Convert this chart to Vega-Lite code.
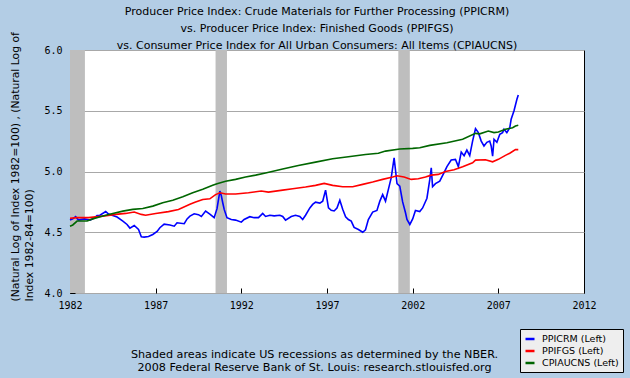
{
  "$schema": "https://vega.github.io/schema/vega-lite/v6.json",
  "autosize": {"type": "none"},
  "width": 514,
  "height": 243,
  "padding": {"left": 70, "top": 50, "right": 46, "bottom": 85},
  "background": "#B3CDE5",
  "title": {
    "text": [
      "Producer Price Index: Crude Materials for Further Processing (PPICRM)",
      "vs.  Producer Price Index: Finished Goods (PPIFGS)",
      "vs.  Consumer Price Index for All Urban Consumers: All Items (CPIAUCNS)"
    ],
    "font": "DejaVu Sans",
    "fontSize": 11,
    "fontWeight": "normal",
    "color": "#000000",
    "anchor": "middle",
    "dx": -10,
    "lineHeight": 17,
    "offset": -19
  },
  "config": {
    "view": {"fill": "#FFFFFF", "stroke": "#000000", "strokeWidth": 1},
    "axis": {
      "labelFont": "DejaVu Sans Mono",
      "labelFontSize": 10,
      "labelColor": "#000000",
      "titleFont": "DejaVu Sans",
      "titleFontWeight": "normal",
      "titleColor": "#000000",
      "domain": false,
      "tickColor": "#000000",
      "tickSize": -5,
      "labelPadding": 13
    }
  },
  "layer": [
    {
      "data": {
        "values": [
          {"start": "1982-01-01", "end": "1982-11-15"},
          {"start": "1990-07-01", "end": "1991-03-01"},
          {"start": "2001-03-01", "end": "2001-11-01"}
        ]
      },
      "mark": {"type": "rect", "color": "#BEBEBE"},
      "encoding": {
        "x": {"field": "start", "type": "temporal"},
        "x2": {"field": "end"}
      }
    },
    {
      "data": {
        "values": [
          {"date": "1982-01-01", "series": "PPICRM", "value": 4.60},
          {"date": "1982-03-01", "series": "PPICRM", "value": 4.61},
          {"date": "1982-05-01", "series": "PPICRM", "value": 4.628},
          {"date": "1982-07-01", "series": "PPICRM", "value": 4.60},
          {"date": "1982-11-01", "series": "PPICRM", "value": 4.61},
          {"date": "1983-03-01", "series": "PPICRM", "value": 4.60},
          {"date": "1983-06-01", "series": "PPICRM", "value": 4.616},
          {"date": "1983-08-01", "series": "PPICRM", "value": 4.638},
          {"date": "1983-10-01", "series": "PPICRM", "value": 4.64},
          {"date": "1984-02-01", "series": "PPICRM", "value": 4.671},
          {"date": "1984-04-01", "series": "PPICRM", "value": 4.65},
          {"date": "1984-08-01", "series": "PPICRM", "value": 4.633},
          {"date": "1984-10-01", "series": "PPICRM", "value": 4.625},
          {"date": "1985-02-01", "series": "PPICRM", "value": 4.592},
          {"date": "1985-05-01", "series": "PPICRM", "value": 4.564},
          {"date": "1985-07-01", "series": "PPICRM", "value": 4.534},
          {"date": "1985-10-01", "series": "PPICRM", "value": 4.556},
          {"date": "1986-01-01", "series": "PPICRM", "value": 4.523},
          {"date": "1986-03-01", "series": "PPICRM", "value": 4.463},
          {"date": "1986-05-01", "series": "PPICRM", "value": 4.46},
          {"date": "1986-08-01", "series": "PPICRM", "value": 4.465},
          {"date": "1986-11-01", "series": "PPICRM", "value": 4.482},
          {"date": "1987-02-01", "series": "PPICRM", "value": 4.507},
          {"date": "1987-04-01", "series": "PPICRM", "value": 4.537},
          {"date": "1987-07-01", "series": "PPICRM", "value": 4.567},
          {"date": "1987-11-01", "series": "PPICRM", "value": 4.56},
          {"date": "1988-02-01", "series": "PPICRM", "value": 4.55},
          {"date": "1988-04-01", "series": "PPICRM", "value": 4.578},
          {"date": "1988-09-01", "series": "PPICRM", "value": 4.57},
          {"date": "1988-11-01", "series": "PPICRM", "value": 4.61},
          {"date": "1989-01-01", "series": "PPICRM", "value": 4.633},
          {"date": "1989-04-01", "series": "PPICRM", "value": 4.652},
          {"date": "1989-07-01", "series": "PPICRM", "value": 4.645},
          {"date": "1989-09-01", "series": "PPICRM", "value": 4.63},
          {"date": "1989-12-01", "series": "PPICRM", "value": 4.674},
          {"date": "1990-03-01", "series": "PPICRM", "value": 4.65},
          {"date": "1990-06-01", "series": "PPICRM", "value": 4.62},
          {"date": "1990-08-01", "series": "PPICRM", "value": 4.694},
          {"date": "1990-10-01", "series": "PPICRM", "value": 4.839},
          {"date": "1990-11-01", "series": "PPICRM", "value": 4.80},
          {"date": "1990-12-01", "series": "PPICRM", "value": 4.743},
          {"date": "1991-01-01", "series": "PPICRM", "value": 4.688},
          {"date": "1991-03-01", "series": "PPICRM", "value": 4.62},
          {"date": "1991-06-01", "series": "PPICRM", "value": 4.605},
          {"date": "1991-09-01", "series": "PPICRM", "value": 4.60},
          {"date": "1992-01-01", "series": "PPICRM", "value": 4.583},
          {"date": "1992-03-01", "series": "PPICRM", "value": 4.605},
          {"date": "1992-07-01", "series": "PPICRM", "value": 4.628},
          {"date": "1992-10-01", "series": "PPICRM", "value": 4.62},
          {"date": "1993-01-01", "series": "PPICRM", "value": 4.62},
          {"date": "1993-04-01", "series": "PPICRM", "value": 4.655},
          {"date": "1993-06-01", "series": "PPICRM", "value": 4.63},
          {"date": "1993-09-01", "series": "PPICRM", "value": 4.64},
          {"date": "1993-12-01", "series": "PPICRM", "value": 4.635},
          {"date": "1994-04-01", "series": "PPICRM", "value": 4.64},
          {"date": "1994-06-01", "series": "PPICRM", "value": 4.63},
          {"date": "1994-08-01", "series": "PPICRM", "value": 4.60},
          {"date": "1994-12-01", "series": "PPICRM", "value": 4.63},
          {"date": "1995-03-01", "series": "PPICRM", "value": 4.64},
          {"date": "1995-06-01", "series": "PPICRM", "value": 4.63},
          {"date": "1995-08-01", "series": "PPICRM", "value": 4.605},
          {"date": "1995-10-01", "series": "PPICRM", "value": 4.64},
          {"date": "1996-01-01", "series": "PPICRM", "value": 4.70},
          {"date": "1996-03-01", "series": "PPICRM", "value": 4.729},
          {"date": "1996-05-01", "series": "PPICRM", "value": 4.748},
          {"date": "1996-08-01", "series": "PPICRM", "value": 4.74},
          {"date": "1996-10-01", "series": "PPICRM", "value": 4.756},
          {"date": "1996-12-01", "series": "PPICRM", "value": 4.847},
          {"date": "1997-02-01", "series": "PPICRM", "value": 4.70},
          {"date": "1997-04-01", "series": "PPICRM", "value": 4.68},
          {"date": "1997-06-01", "series": "PPICRM", "value": 4.675},
          {"date": "1997-08-01", "series": "PPICRM", "value": 4.70},
          {"date": "1997-10-01", "series": "PPICRM", "value": 4.764},
          {"date": "1997-12-01", "series": "PPICRM", "value": 4.69},
          {"date": "1998-02-01", "series": "PPICRM", "value": 4.628},
          {"date": "1998-04-01", "series": "PPICRM", "value": 4.605},
          {"date": "1998-06-01", "series": "PPICRM", "value": 4.592},
          {"date": "1998-08-01", "series": "PPICRM", "value": 4.54},
          {"date": "1998-11-01", "series": "PPICRM", "value": 4.523},
          {"date": "1999-02-01", "series": "PPICRM", "value": 4.50},
          {"date": "1999-04-01", "series": "PPICRM", "value": 4.52},
          {"date": "1999-06-01", "series": "PPICRM", "value": 4.605},
          {"date": "1999-09-01", "series": "PPICRM", "value": 4.666},
          {"date": "1999-12-01", "series": "PPICRM", "value": 4.68},
          {"date": "2000-02-01", "series": "PPICRM", "value": 4.756},
          {"date": "2000-04-01", "series": "PPICRM", "value": 4.81},
          {"date": "2000-06-01", "series": "PPICRM", "value": 4.756},
          {"date": "2000-08-01", "series": "PPICRM", "value": 4.853},
          {"date": "2000-10-01", "series": "PPICRM", "value": 4.95},
          {"date": "2000-12-01", "series": "PPICRM", "value": 5.113},
          {"date": "2001-02-01", "series": "PPICRM", "value": 4.90},
          {"date": "2001-04-01", "series": "PPICRM", "value": 4.88},
          {"date": "2001-06-01", "series": "PPICRM", "value": 4.75},
          {"date": "2001-08-01", "series": "PPICRM", "value": 4.66},
          {"date": "2001-09-01", "series": "PPICRM", "value": 4.605},
          {"date": "2001-11-01", "series": "PPICRM", "value": 4.564},
          {"date": "2002-01-01", "series": "PPICRM", "value": 4.61},
          {"date": "2002-03-01", "series": "PPICRM", "value": 4.68},
          {"date": "2002-06-01", "series": "PPICRM", "value": 4.67},
          {"date": "2002-08-01", "series": "PPICRM", "value": 4.70},
          {"date": "2002-11-01", "series": "PPICRM", "value": 4.78},
          {"date": "2003-01-01", "series": "PPICRM", "value": 4.935},
          {"date": "2003-02-01", "series": "PPICRM", "value": 5.03},
          {"date": "2003-03-01", "series": "PPICRM", "value": 4.875},
          {"date": "2003-05-01", "series": "PPICRM", "value": 4.90},
          {"date": "2003-08-01", "series": "PPICRM", "value": 4.92},
          {"date": "2003-11-01", "series": "PPICRM", "value": 4.99},
          {"date": "2004-01-01", "series": "PPICRM", "value": 5.04},
          {"date": "2004-04-01", "series": "PPICRM", "value": 5.094},
          {"date": "2004-07-01", "series": "PPICRM", "value": 5.10},
          {"date": "2004-09-01", "series": "PPICRM", "value": 5.04},
          {"date": "2004-11-01", "series": "PPICRM", "value": 5.16},
          {"date": "2005-01-01", "series": "PPICRM", "value": 5.13},
          {"date": "2005-03-01", "series": "PPICRM", "value": 5.176},
          {"date": "2005-05-01", "series": "PPICRM", "value": 5.13},
          {"date": "2005-07-01", "series": "PPICRM", "value": 5.25},
          {"date": "2005-09-01", "series": "PPICRM", "value": 5.353},
          {"date": "2005-11-01", "series": "PPICRM", "value": 5.32},
          {"date": "2006-01-01", "series": "PPICRM", "value": 5.25},
          {"date": "2006-03-01", "series": "PPICRM", "value": 5.21},
          {"date": "2006-05-01", "series": "PPICRM", "value": 5.24},
          {"date": "2006-07-01", "series": "PPICRM", "value": 5.25},
          {"date": "2006-08-01", "series": "PPICRM", "value": 5.21},
          {"date": "2006-09-01", "series": "PPICRM", "value": 5.127},
          {"date": "2006-10-01", "series": "PPICRM", "value": 5.265},
          {"date": "2006-12-01", "series": "PPICRM", "value": 5.24},
          {"date": "2007-02-01", "series": "PPICRM", "value": 5.306},
          {"date": "2007-04-01", "series": "PPICRM", "value": 5.32},
          {"date": "2007-05-01", "series": "PPICRM", "value": 5.347},
          {"date": "2007-07-01", "series": "PPICRM", "value": 5.32},
          {"date": "2007-09-01", "series": "PPICRM", "value": 5.36},
          {"date": "2007-10-01", "series": "PPICRM", "value": 5.43},
          {"date": "2007-12-01", "series": "PPICRM", "value": 5.50},
          {"date": "2008-02-01", "series": "PPICRM", "value": 5.594},
          {"date": "2008-03-01", "series": "PPICRM", "value": 5.63},

          {"date": "1982-01-01", "series": "PPIFGS", "value": 4.615},
          {"date": "1982-06-01", "series": "PPIFGS", "value": 4.62},
          {"date": "1983-02-01", "series": "PPIFGS", "value": 4.62},
          {"date": "1983-12-01", "series": "PPIFGS", "value": 4.633},
          {"date": "1984-09-01", "series": "PPIFGS", "value": 4.647},
          {"date": "1985-04-01", "series": "PPIFGS", "value": 4.655},
          {"date": "1985-10-01", "series": "PPIFGS", "value": 4.666},
          {"date": "1986-03-01", "series": "PPIFGS", "value": 4.647},
          {"date": "1986-06-01", "series": "PPIFGS", "value": 4.64},
          {"date": "1987-01-01", "series": "PPIFGS", "value": 4.655},
          {"date": "1987-10-01", "series": "PPIFGS", "value": 4.67},
          {"date": "1988-05-01", "series": "PPIFGS", "value": 4.688},
          {"date": "1989-01-01", "series": "PPIFGS", "value": 4.73},
          {"date": "1989-05-01", "series": "PPIFGS", "value": 4.748},
          {"date": "1989-10-01", "series": "PPIFGS", "value": 4.77},
          {"date": "1990-03-01", "series": "PPIFGS", "value": 4.775},
          {"date": "1990-07-01", "series": "PPIFGS", "value": 4.81},
          {"date": "1990-10-01", "series": "PPIFGS", "value": 4.825},
          {"date": "1991-02-01", "series": "PPIFGS", "value": 4.815},
          {"date": "1991-09-01", "series": "PPIFGS", "value": 4.815},
          {"date": "1992-06-01", "series": "PPIFGS", "value": 4.825},
          {"date": "1993-03-01", "series": "PPIFGS", "value": 4.839},
          {"date": "1993-08-01", "series": "PPIFGS", "value": 4.83},
          {"date": "1994-06-01", "series": "PPIFGS", "value": 4.847},
          {"date": "1995-01-01", "series": "PPIFGS", "value": 4.858},
          {"date": "1995-10-01", "series": "PPIFGS", "value": 4.872},
          {"date": "1996-05-01", "series": "PPIFGS", "value": 4.886},
          {"date": "1996-11-01", "series": "PPIFGS", "value": 4.902},
          {"date": "1997-05-01", "series": "PPIFGS", "value": 4.886},
          {"date": "1997-12-01", "series": "PPIFGS", "value": 4.875},
          {"date": "1998-07-01", "series": "PPIFGS", "value": 4.875},
          {"date": "1999-02-01", "series": "PPIFGS", "value": 4.894},
          {"date": "1999-09-01", "series": "PPIFGS", "value": 4.913},
          {"date": "2000-04-01", "series": "PPIFGS", "value": 4.935},
          {"date": "2000-11-01", "series": "PPIFGS", "value": 4.954},
          {"date": "2001-02-01", "series": "PPIFGS", "value": 4.965},
          {"date": "2001-07-01", "series": "PPIFGS", "value": 4.954},
          {"date": "2001-12-01", "series": "PPIFGS", "value": 4.935},
          {"date": "2002-05-01", "series": "PPIFGS", "value": 4.94},
          {"date": "2002-10-01", "series": "PPIFGS", "value": 4.954},
          {"date": "2003-02-01", "series": "PPIFGS", "value": 4.97},
          {"date": "2003-07-01", "series": "PPIFGS", "value": 4.976},
          {"date": "2003-12-01", "series": "PPIFGS", "value": 5.0},
          {"date": "2004-06-01", "series": "PPIFGS", "value": 5.015},
          {"date": "2004-12-01", "series": "PPIFGS", "value": 5.04},
          {"date": "2005-07-01", "series": "PPIFGS", "value": 5.072},
          {"date": "2005-09-01", "series": "PPIFGS", "value": 5.094},
          {"date": "2006-04-01", "series": "PPIFGS", "value": 5.097},
          {"date": "2006-09-01", "series": "PPIFGS", "value": 5.08},
          {"date": "2007-01-01", "series": "PPIFGS", "value": 5.10},
          {"date": "2007-06-01", "series": "PPIFGS", "value": 5.133},
          {"date": "2007-09-01", "series": "PPIFGS", "value": 5.15},
          {"date": "2008-01-01", "series": "PPIFGS", "value": 5.18},
          {"date": "2008-03-01", "series": "PPIFGS", "value": 5.18},

          {"date": "1982-01-01", "series": "CPIAUCNS", "value": 4.55},
          {"date": "1982-03-01", "series": "CPIAUCNS", "value": 4.56},
          {"date": "1982-06-01", "series": "CPIAUCNS", "value": 4.592},
          {"date": "1983-01-01", "series": "CPIAUCNS", "value": 4.592},
          {"date": "1983-05-01", "series": "CPIAUCNS", "value": 4.61},
          {"date": "1983-12-01", "series": "CPIAUCNS", "value": 4.633},
          {"date": "1984-07-01", "series": "CPIAUCNS", "value": 4.655},
          {"date": "1985-02-01", "series": "CPIAUCNS", "value": 4.674},
          {"date": "1985-09-01", "series": "CPIAUCNS", "value": 4.688},
          {"date": "1986-04-01", "series": "CPIAUCNS", "value": 4.696},
          {"date": "1986-11-01", "series": "CPIAUCNS", "value": 4.715},
          {"date": "1987-06-01", "series": "CPIAUCNS", "value": 4.743},
          {"date": "1988-01-01", "series": "CPIAUCNS", "value": 4.764},
          {"date": "1988-08-01", "series": "CPIAUCNS", "value": 4.792},
          {"date": "1989-03-01", "series": "CPIAUCNS", "value": 4.825},
          {"date": "1989-10-01", "series": "CPIAUCNS", "value": 4.853},
          {"date": "1990-05-01", "series": "CPIAUCNS", "value": 4.886},
          {"date": "1990-08-01", "series": "CPIAUCNS", "value": 4.90},
          {"date": "1991-02-01", "series": "CPIAUCNS", "value": 4.92},
          {"date": "1991-09-01", "series": "CPIAUCNS", "value": 4.935},
          {"date": "1992-04-01", "series": "CPIAUCNS", "value": 4.954},
          {"date": "1992-11-01", "series": "CPIAUCNS", "value": 4.97},
          {"date": "1993-06-01", "series": "CPIAUCNS", "value": 4.988},
          {"date": "1994-06-01", "series": "CPIAUCNS", "value": 5.02},
          {"date": "1995-05-01", "series": "CPIAUCNS", "value": 5.05},
          {"date": "1996-05-01", "series": "CPIAUCNS", "value": 5.077},
          {"date": "1997-05-01", "series": "CPIAUCNS", "value": 5.105},
          {"date": "1998-04-01", "series": "CPIAUCNS", "value": 5.122},
          {"date": "1999-04-01", "series": "CPIAUCNS", "value": 5.14},
          {"date": "2000-01-01", "series": "CPIAUCNS", "value": 5.15},
          {"date": "2000-06-01", "series": "CPIAUCNS", "value": 5.168},
          {"date": "2001-04-01", "series": "CPIAUCNS", "value": 5.185},
          {"date": "2002-01-01", "series": "CPIAUCNS", "value": 5.19},
          {"date": "2002-06-01", "series": "CPIAUCNS", "value": 5.196},
          {"date": "2003-01-01", "series": "CPIAUCNS", "value": 5.215},
          {"date": "2004-01-01", "series": "CPIAUCNS", "value": 5.237},
          {"date": "2004-12-01", "series": "CPIAUCNS", "value": 5.265},
          {"date": "2005-09-01", "series": "CPIAUCNS", "value": 5.314},
          {"date": "2005-12-01", "series": "CPIAUCNS", "value": 5.31},
          {"date": "2006-06-01", "series": "CPIAUCNS", "value": 5.333},
          {"date": "2006-10-01", "series": "CPIAUCNS", "value": 5.32},
          {"date": "2007-01-01", "series": "CPIAUCNS", "value": 5.325},
          {"date": "2007-06-01", "series": "CPIAUCNS", "value": 5.347},
          {"date": "2007-11-01", "series": "CPIAUCNS", "value": 5.36},
          {"date": "2008-01-01", "series": "CPIAUCNS", "value": 5.374},
          {"date": "2008-03-01", "series": "CPIAUCNS", "value": 5.38}
        ]
      },
      "mark": {"type": "line", "strokeWidth": 1.6},
      "encoding": {
        "x": {
          "field": "date",
          "type": "temporal",
          "scale": {"domain": [{"year": 1982, "month": 1, "date": 1}, {"year": 2012, "month": 1, "date": 1}]},
          "axis": {
            "values": [
              {"year": 1982, "month": 1, "date": 1},
              {"year": 1987, "month": 1, "date": 1},
              {"year": 1992, "month": 1, "date": 1},
              {"year": 1997, "month": 1, "date": 1},
              {"year": 2002, "month": 1, "date": 1},
              {"year": 2007, "month": 1, "date": 1},
              {"year": 2012, "month": 1, "date": 1}
            ],
            "format": "%Y",
            "grid": false,
            "labelFlush": false,
            "labelOverlap": false,
            "labelPadding": 12,
            "title": [
              "Shaded areas indicate US recessions as determined by the NBER.",
              "2008 Federal Reserve Bank of St. Louis: research.stlouisfed.org"
            ],
            "titleFontSize": 11.2,
            "titleX": 244,
            "titleY": 64,
            "titleAnchor": "middle",
            "titleAlign": "center",
            "titleBaseline": "alphabetic",
            "titleLineHeight": 13.5
          }
        },
        "y": {
          "field": "value",
          "type": "quantitative",
          "scale": {"domain": [4, 6], "nice": false, "zero": false},
          "axis": {
            "values": [4, 4.5, 5, 5.5, 6],
            "format": ".1f",
            "grid": true,
            "gridColor": "#A8A8A8",
            "gridWidth": 1,
            "title": [
              "(Natural Log of Index 1982=100) , (Natural Log of",
              "Index 1982-84=100)"
            ],
            "titleFontSize": 10.8,
            "titleAngle": -90,
            "titleAlign": "left",
            "titleBaseline": "top",
            "titleX": -61,
            "titleY": 251,
            "titleLineHeight": 14
          }
        },
        "color": {
          "field": "series",
          "type": "nominal",
          "scale": {
            "domain": ["PPICRM", "PPIFGS", "CPIAUCNS"],
            "range": ["#0000FF", "#FF0000", "#006600"]
          },
          "legend": {
            "title": null,
            "orient": "none",
            "legendX": 450,
            "legendY": 279,
            "direction": "vertical",
            "fillColor": "#EEEEEE",
            "strokeColor": "#000000",
            "padding": 4,
            "symbolType": "stroke",
            "symbolSize": 81,
            "symbolStrokeWidth": 2.5,
            "labelFont": "DejaVu Sans",
            "labelFontSize": 9.5,
            "labelColor": "#000000",
            "labelOffset": 6,
            "rowPadding": 1,
            "labelExpr": "datum.label + ' (Left)'"
          }
        }
      }
    }
  ]
}
